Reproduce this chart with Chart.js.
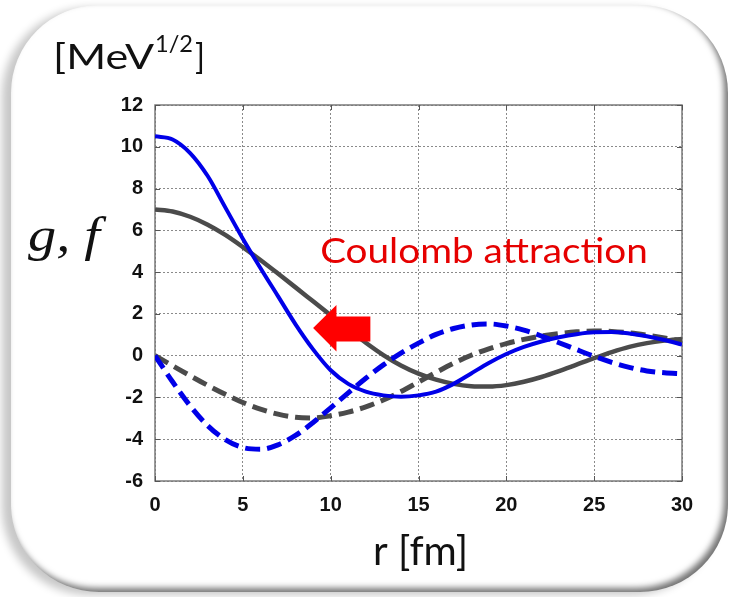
<!DOCTYPE html>
<html>
<head>
<meta charset="utf-8">
<script src="https://cdn.jsdelivr.net/npm/chart.js@4/dist/chart.umd.min.js"></script>
<style>
  html, body { margin: 0; padding: 0; background: #ffffff; }
  body { width: 732px; height: 597px; position: relative; overflow: hidden; }
  .card {
    position: absolute; left: 11px; top: 5px; width: 717px; height: 587px;
    border-radius: 88px; background: #ffffff;
    box-shadow: -9px 3px 9px rgba(0,0,0,0.22), inset -4px -4px 6px rgba(0,0,0,0.55);
  }
  #wrap { position: absolute; left: 0; top: 0; width: 732px; height: 597px; }
</style>
</head>
<body>
<div class="card"></div>
<div id="wrap"><canvas id="chart" width="732" height="597"></canvas></div>
<script>
// radial coordinate r [fm]
const radius = [0, 1, 2, 3, 4, 5, 6, 7, 8, 9, 10, 11, 12, 13, 14, 15, 16, 17, 18, 19, 20,
                21, 22, 23, 24, 25, 26, 27, 28, 29, 30];

// large component g, with Coulomb attraction (blue) and without (gray)
const gBlue = [10.5, 10.35, 9.7, 8.6, 7.1, 5.6, 4.2, 2.85, 1.5, 0.3, -0.7, -1.35, -1.72, -1.9, -1.97,
               -1.9, -1.72, -1.35, -0.85, -0.35, 0.08, 0.42, 0.68, 0.88, 1.03, 1.12, 1.13, 1.06, 0.93, 0.75, 0.53];
const gGray = [7.0, 6.9, 6.65, 6.27, 5.78, 5.2, 4.58, 3.93, 3.27, 2.6, 1.93, 1.26, 0.62, 0.03, -0.47,
               -0.86, -1.15, -1.35, -1.46, -1.48, -1.41, -1.25, -1.02, -0.74, -0.43, -0.12, 0.17, 0.42, 0.6, 0.72, 0.8];

// small component f, with Coulomb attraction (blue) and without (gray)
const fBlue = [0, -1.25, -2.4, -3.35, -4.02, -4.4, -4.48, -4.27, -3.82, -3.2, -2.5, -1.78, -1.08, -0.44, 0.12,
               0.6, 1.02, 1.3, 1.47, 1.52, 1.42, 1.22, 0.94, 0.62, 0.29, -0.03, -0.32, -0.56, -0.73, -0.82, -0.86];
const fGray = [0, -0.48, -0.96, -1.42, -1.85, -2.24, -2.56, -2.8, -2.95, -2.98, -2.88, -2.7, -2.45, -2.12, -1.72,
               -1.26, -0.8, -0.36, 0.02, 0.33, 0.58, 0.78, 0.94, 1.06, 1.14, 1.18, 1.16, 1.09, 0.98, 0.85, 0.7];

// axis ticks
const xTicks = [0, 5, 10, 15, 20, 25, 30];
const yTicks = [-6, -4, -2, 0, 2, 4, 6, 8, 10, 12];

const toPoints = (ys) => radius.map((r, i) => ({ x: r, y: ys[i] }));

const BLUE = '#0000e8';
const GRAY = '#4b4b4b';

// solid frame around the plot with short inward tick marks
const framePlugin = {
  id: 'frame',
  beforeDatasetsDraw(chart) {
    const { ctx, chartArea: a, scales: { x, y } } = chart;
    ctx.save();
    ctx.strokeStyle = '#7a7a7a';
    ctx.lineWidth = 1.5;
    ctx.strokeRect(a.left, a.top, a.right - a.left, a.bottom - a.top);
    ctx.strokeStyle = '#555555';
    ctx.lineWidth = 1;
    const t = 5;
    ctx.beginPath();
    xTicks.forEach(v => {
      const px = Math.round(x.getPixelForValue(v)) + 0.5;
      ctx.moveTo(px, a.top); ctx.lineTo(px, a.top + t);
      ctx.moveTo(px, a.bottom); ctx.lineTo(px, a.bottom - t);
    });
    yTicks.forEach(v => {
      const py = Math.round(y.getPixelForValue(v)) + 0.5;
      ctx.moveTo(a.left, py); ctx.lineTo(a.left + t, py);
      ctx.moveTo(a.right, py); ctx.lineTo(a.right - t, py);
    });
    ctx.stroke();
    ctx.restore();
  }
};

// red block arrow pointing left, placed in data coordinates
const arrowPlugin = {
  id: 'arrow',
  afterDatasetsDraw(chart, args, opts) {
    const { ctx, scales: { x, y } } = chart;
    const X = v => x.getPixelForValue(v), Y = v => y.getPixelForValue(v);
    ctx.save();
    ctx.fillStyle = opts.color;
    ctx.beginPath();
    ctx.moveTo(X(opts.tip[0]), Y(opts.tip[1]));
    ctx.lineTo(X(opts.headX), Y(opts.headTop));
    ctx.lineTo(X(opts.headX), Y(opts.shaftTop));
    ctx.lineTo(X(opts.tailX), Y(opts.shaftTop));
    ctx.lineTo(X(opts.tailX), Y(opts.shaftBottom));
    ctx.lineTo(X(opts.headX), Y(opts.shaftBottom));
    ctx.lineTo(X(opts.headX), Y(opts.headBottom));
    ctx.closePath();
    ctx.fill();
    ctx.restore();
  }
};

// draw text squeezed/stretched horizontally to span [left, right]
function fitText(ctx, text, font, left, right, baseline, color) {
  ctx.save();
  ctx.font = font;
  ctx.textAlign = 'left';
  ctx.textBaseline = 'alphabetic';
  const w = ctx.measureText(text).width;
  ctx.translate(left, baseline);
  ctx.scale((right - left) / w, 1);
  ctx.fillStyle = color;
  ctx.fillText(text, 0, 0);
  ctx.restore();
}

// axis titles and the annotation text
const labelPlugin = {
  id: 'labels',
  afterDraw(chart) {
    const { ctx, scales: { x, y } } = chart;
    // unit label on the y axis
    fitText(ctx, '[MeV', '35px Lato', 53, 154, 69, '#111111');
    fitText(ctx, '1/2', '24px Lato', 155, 193, 52, '#111111');
    fitText(ctx, ']', '35px Lato', 195, 205, 69, '#111111');
    // quantity label
    fitText(ctx, 'g, f', 'italic 48px "Liberation Serif"', 28, 100, 251, '#111111');
    // x axis title
    fitText(ctx, 'r [fm]', '41px Lato', 373, 468, 565, '#111111');
    // annotation
    fitText(ctx, 'Coulomb attraction', '35px Lato',
      x.getPixelForValue(9.4), x.getPixelForValue(28.05), y.getPixelForValue(4.42), '#e60000');
  }
};

const dashed = [15, 7];

new Chart(document.getElementById('chart'), {
  type: 'line',
  data: {
    datasets: [
      { label: 'g (Coulomb)', data: toPoints(gBlue), borderColor: BLUE, borderWidth: 4 },
      { label: 'f (Coulomb)', data: toPoints(fBlue), borderColor: BLUE, borderWidth: 5, borderDash: dashed },
      { label: 'g', data: toPoints(gGray), borderColor: GRAY, borderWidth: 4.5 },
      { label: 'f', data: toPoints(fGray), borderColor: GRAY, borderWidth: 5, borderDash: dashed }
    ]
  },
  options: {
    responsive: false,
    animation: false,
    devicePixelRatio: 1,
    layout: { padding: { left: 0, top: 105, right: 50, bottom: 0 } },
    elements: {
      point: { radius: 0, hoverRadius: 0 },
      line: { cubicInterpolationMode: 'monotone', fill: false, borderCapStyle: 'butt', borderJoinStyle: 'round' }
    },
    plugins: {
      legend: { display: false },
      tooltip: { enabled: false },
      arrow: {
        color: '#ff0000',
        tip: [9.0, 1.32], headX: 10.33, headTop: 2.43, headBottom: 0.2,
        tailX: 12.26, shaftTop: 1.87, shaftBottom: 0.68
      }
    },
    scales: {
      x: {
        type: 'linear', min: 0, max: 30,
        afterFit(s) { s.height = 116; },
        afterBuildTicks(s) { s.ticks = xTicks.map(v => ({ value: v })); },
        grid: { color: '#8a8a8a', lineWidth: 1, drawTicks: false },
        border: { display: false, dash: [2, 2] },
        ticks: { padding: 12, color: '#111111', font: { family: '"Liberation Sans", Arial', size: 20, weight: 'bold' } }
      },
      y: {
        type: 'linear', min: -6, max: 12,
        afterFit(s) { s.width = 155; },
        afterBuildTicks(s) { s.ticks = yTicks.map(v => ({ value: v })); },
        grid: { color: '#8a8a8a', lineWidth: 1, drawTicks: false },
        border: { display: false, dash: [2, 2] },
        ticks: { padding: 12, color: '#111111', font: { family: '"Liberation Sans", Arial', size: 20, weight: 'bold' } }
      }
    }
  },
  plugins: [framePlugin, arrowPlugin, labelPlugin]
});
</script>
</body>
</html>
